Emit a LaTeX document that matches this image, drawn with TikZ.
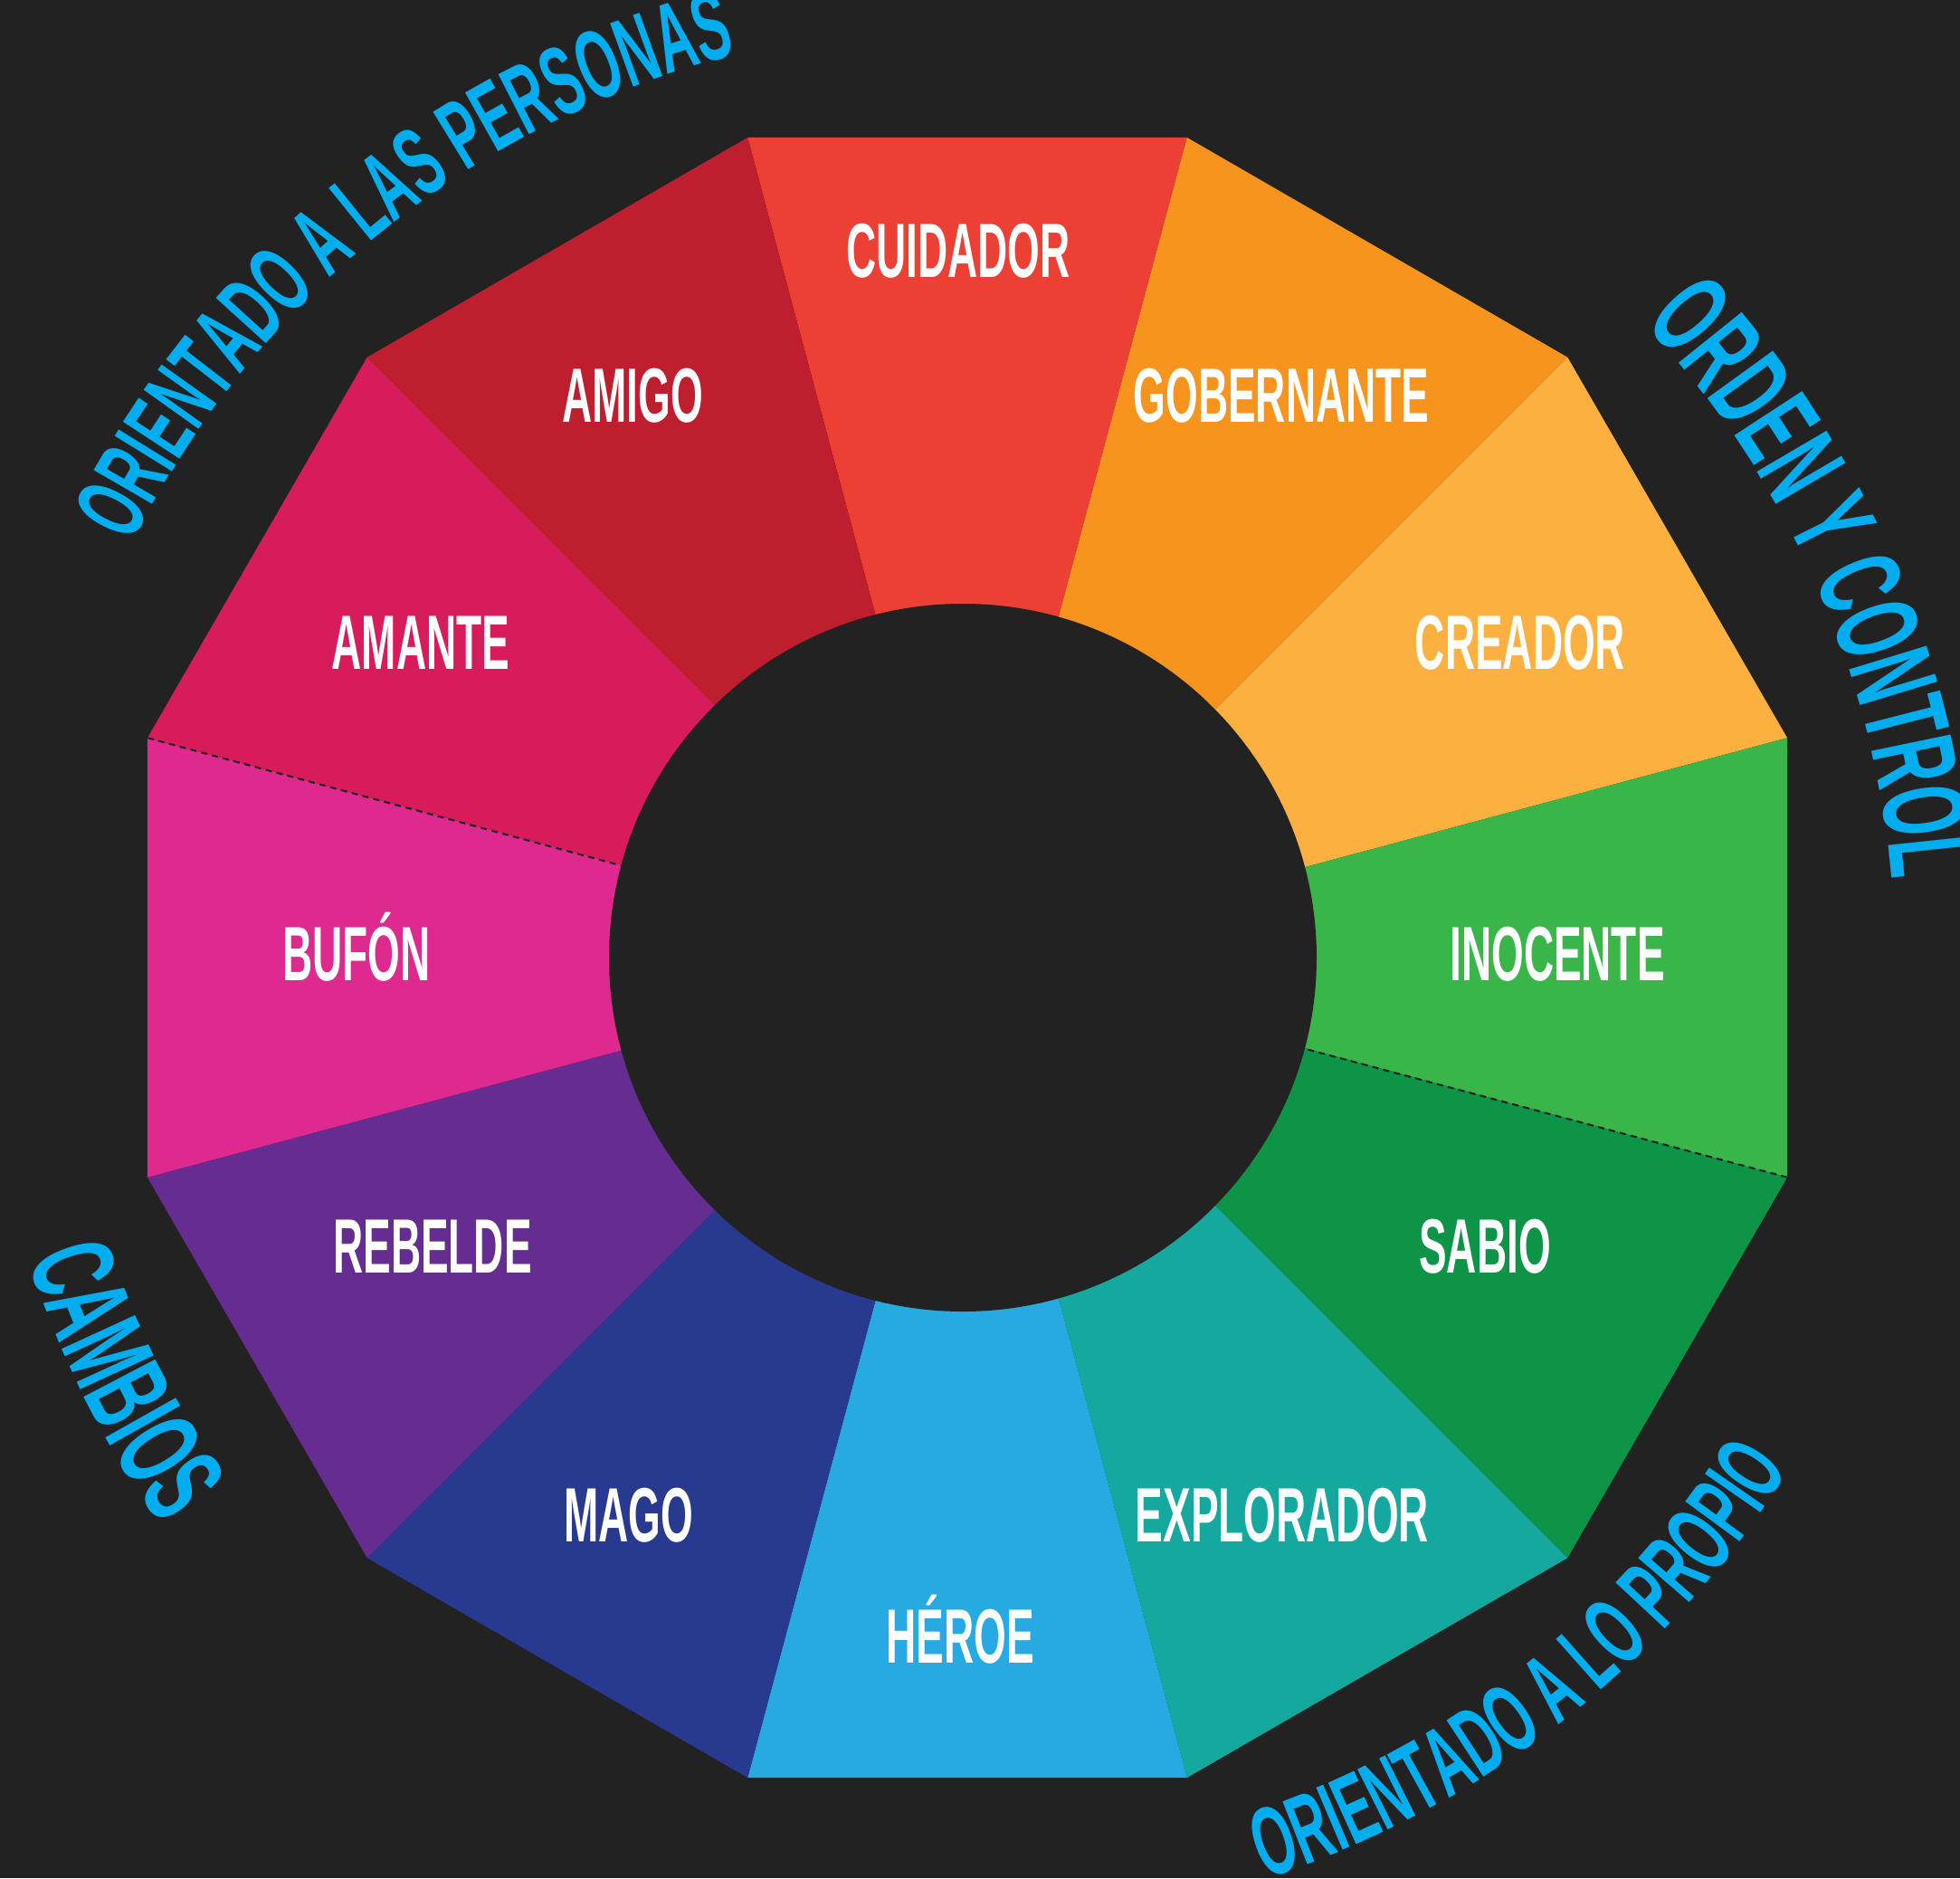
\documentclass[tikz,border=0pt]{standalone}
\usepackage{fontspec}
\newfontfamily\lblfont[FakeStretch=0.54]{Liberation Sans}
\usepackage{tikz}
\usetikzlibrary{decorations.text}
\definecolor{bgc}{HTML}{222222}
\definecolor{arcblue}{HTML}{00AEEF}
\definecolor{cuidadorc}{HTML}{EC4034}
\definecolor{gobernantec}{HTML}{F7941E}
\definecolor{creadorc}{HTML}{FBB040}
\definecolor{inocentec}{HTML}{39B54A}
\definecolor{sabioc}{HTML}{0D9446}
\definecolor{exploradorc}{HTML}{14A89E}
\definecolor{heroec}{HTML}{27AAE1}
\definecolor{magoc}{HTML}{283990}
\definecolor{rebeldec}{HTML}{662D91}
\definecolor{bufonc}{HTML}{DE2A8E}
\definecolor{amantec}{HTML}{D81C5B}
\definecolor{amigoc}{HTML}{BE1E2D}
\newcommand\arcsmall{\lblfont\bfseries\fontsize{30.8pt}{36pt}\selectfont}
\newcommand\arcbig{\lblfont\bfseries\fontsize{37pt}{44pt}\selectfont}

\begin{document}
\begin{tikzpicture}[
    lbl/.style={text=white, font=\lblfont\bfseries\fontsize{24.2pt}{29pt}\selectfont, anchor=base, inner sep=0pt},
    seam/.style={draw=bgc, line width=0.6pt, dash pattern=on 2pt off 1.5pt},
    arctext/.style={decorate, decoration={text along path, text color=arcblue, text align=center}}
]
        \fill[bgc] (-10.69,-10.17) rectangle (10.97,10.58);
        \useasboundingbox (-10.69,-10.17) rectangle (10.97,10.58);

        % wedges of the wheel
        \fill[cuidadorc]   (0,0) -- (75:9.38)   -- (105:9.38) -- cycle;
        \fill[gobernantec] (0,0) -- (45:9.38)   -- (75:9.38)  -- cycle;
        \fill[creadorc]    (0,0) -- (15:9.38)   -- (45:9.38)  -- cycle;
        \fill[inocentec]   (0,0) -- (-15:9.38)  -- (15:9.38)  -- cycle;
        \fill[sabioc]      (0,0) -- (-45:9.38)  -- (-15:9.38) -- cycle;
        \fill[exploradorc] (0,0) -- (-75:9.38)  -- (-45:9.38) -- cycle;
        \fill[heroec]      (0,0) -- (-105:9.38) -- (-75:9.38) -- cycle;
        \fill[magoc]       (0,0) -- (-135:9.38) -- (-105:9.38) -- cycle;
        \fill[rebeldec]    (0,0) -- (-165:9.38) -- (-135:9.38) -- cycle;
        \fill[bufonc]      (0,0) -- (165:9.38)  -- (195:9.38) -- cycle;
        \fill[amantec]     (0,0) -- (135:9.38)  -- (165:9.38) -- cycle;
        \fill[amigoc]      (0,0) -- (105:9.38)  -- (135:9.38) -- cycle;

        \node[circle, fill=bgc, minimum size=7.82cm, inner sep=0pt] (hub) at (-0.05,0) {};

        \coordinate (v165) at (165:9.38);
        \coordinate (v345) at (-15:9.38);
        \draw[seam] (v165) -- (hub);
        \draw[seam] (v345) -- (hub);

        \node[lbl] (cuidador)   at (-0.10,7.51)  {CUIDADOR};
        \node[lbl] (gobernante) at (3.47,5.91)   {GOBERNANTE};
        \node[lbl] (creador)    at (6.11,3.19)   {CREADOR};
        \node[lbl] (inocente)   at (6.52,-0.25)  {INOCENTE};
        \node[lbl] (sabio)      at (5.72,-3.48)  {SABIO};
        \node[lbl] (explorador) at (3.48,-6.45)  {EXPLORADOR};
        \node[lbl] (heroe)      at (-0.08,-7.79) {HÉROE};
        \node[lbl] (mago)       at (-3.74,-6.45) {MAGO};
        \node[lbl] (rebelde)    at (-5.91,-3.48) {REBELDE};
        \node[lbl] (bufon)      at (-6.75,-0.25) {BUFÓN};
        \node[lbl] (amante)     at (-6.04,3.19)  {AMANTE};
        \node[lbl] (amigo)      at (-3.70,5.91)  {AMIGO};

        % group names round the wheel
        \path[arctext, decoration={text={|\arcsmall|ORIENTADO A LAS PERSONAS}}]
              (165:10.3) arc[start angle=165, end angle=93, radius=10.3];
        \path[arctext, decoration={text={|\arcbig|ORDEN Y CONTROL}}]
              (50:10.25) arc[start angle=50, end angle=-2, radius=10.25];
        \path[arctext, decoration={text={|\arcbig|CAMBIOS}}]
              (188:10.9) arc[start angle=188, end angle=225, radius=10.9];
        \path[arctext, decoration={text={|\arcsmall|ORIENTADO A LO PROPIO}}]
              (-88:10.7) arc[start angle=-88, end angle=-16, radius=10.7];
\end{tikzpicture}
\end{document}
